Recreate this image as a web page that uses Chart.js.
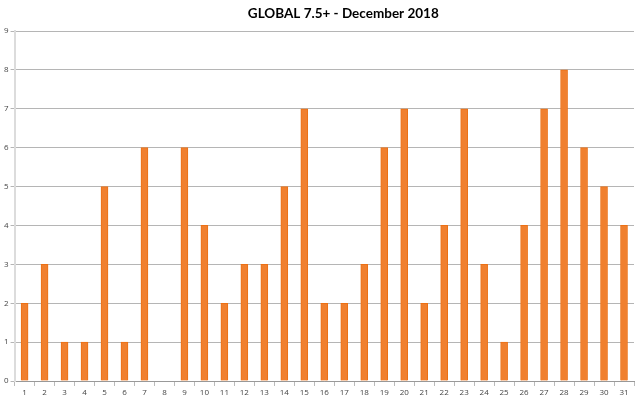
<!DOCTYPE html>
<html>
<head>
<meta charset="utf-8">
<script src="https://cdn.jsdelivr.net/npm/chart.js@4"></script>
<style>
  html, body { margin: 0; padding: 0; background: #fff; }
  #wrap { width: 640px; height: 398px; }
</style>
</head>
<body>
<div id="wrap"><canvas id="chart"></canvas></div>
<script>
// Days of December 2018
const days = Array.from({ length: 31 }, (_, i) => String(i + 1));
// Count of M7.5+ quakes per day
const counts = [2, 3, 1, 1, 5, 1, 6, 0, 6, 4, 2, 3, 3, 5, 7, 2, 2, 3, 6, 7, 2, 4, 7, 3, 1, 4, 7, 8, 6, 5, 4];
const yTicks = [0, 1, 2, 3, 4, 5, 6, 7, 8, 9];
const titleText = 'GLOBAL 7.5+ - December 2018';

// title sits a bit right of centre in the original, so draw it by hand
const titlePlugin = {
  id: 'offTitle',
  afterDraw(chart) {
    const { ctx, chartArea } = chart;
    ctx.save();
    ctx.font = "bold 13.5px Lato";
    ctx.fillStyle = '#000';
    ctx.textAlign = 'center';
    ctx.textBaseline = 'middle';
    ctx.fillText(titleText, (chartArea.left + chartArea.right) / 2 + 19, 14);
    ctx.restore();
  },
};

new Chart(document.getElementById('chart'), {
  type: 'bar',
  data: {
    labels: days,
    datasets: [{
      data: counts,
      backgroundColor: '#f0802f',
      borderColor: '#ec7014',
      borderWidth: 1,
      barThickness: 7,
    }],
  },
  options: {
    responsive: true,
    maintainAspectRatio: false,
    animation: false,
    layout: { padding: { left: 2, right: 6, top: 31, bottom: 0 } },
    plugins: {
      legend: { display: false },
      tooltip: { enabled: false },
      title: { display: false },
    },
    scales: {
      x: {
        offset: true,
        afterFit: s => { s.height = 17; },
        grid: { display: true, drawOnChartArea: false, drawTicks: true, tickLength: 5, color: '#bbb', offset: true },
        border: { display: true, color: '#999' },
        ticks: { color: '#444', font: { family: "'Open Sans'", size: 8 }, padding: 2, maxRotation: 0, autoSkip: false },
      },
      y: {
        min: 0,
        max: 9,
        afterBuildTicks: s => { s.ticks = yTicks.map(v => ({ value: v })); },
        grid: { color: '#b5b5b5', drawTicks: true, tickLength: 4 },
        border: { display: true, color: '#dcdcdc', width: 2 },
        ticks: { color: '#444', font: { family: "'Open Sans'", size: 8 }, padding: 2 },
      },
    },
  },
  plugins: [titlePlugin],
});
</script>
</body>
</html>
